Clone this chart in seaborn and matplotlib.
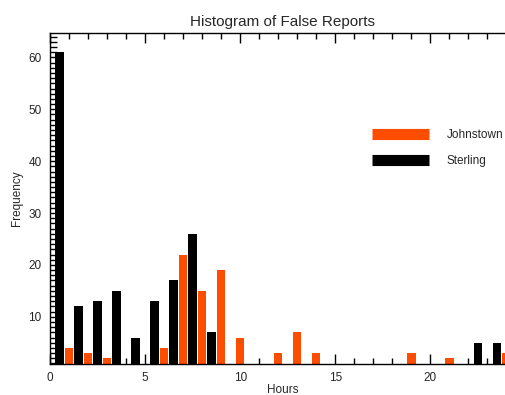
import matplotlib
matplotlib.use("Agg")
import matplotlib.pyplot as plt
from matplotlib.lines import Line2D
from matplotlib.ticker import MultipleLocator
import seaborn as sns
import pandas as pd

# Data
sterling_hours = [0.5, 1.5, 2.5, 3.5, 4.5, 5.5, 6.5, 7.5, 8.5, 22.5, 23.5]
sterling_freq = [61, 12, 13, 15, 6, 13, 17, 26, 7, 5, 5]
johnstown_hours = [1, 2, 3, 6, 7, 8, 9, 10, 12, 13, 14, 19, 21, 24]
johnstown_freq = [4, 3, 2, 4, 22, 15, 19, 6, 3, 7, 3, 3, 2, 3]
series_names = ["Johnstown", "Sterling"]
series_colors = ["#ff4d00", "#000000"]

sns.set_style("ticks")
plt.rcParams["font.family"] = ["Liberation Sans", "DejaVu Sans"]

W, H = 505, 395
fig = plt.figure(figsize=(W / 100, H / 100), dpi=100)
ax = fig.add_axes([50 / W, (H - 364) / H, 465 / W, (364 - 33) / H])

df_s = pd.DataFrame({"Hours": sterling_hours, "Frequency": sterling_freq})
df_j = pd.DataFrame({"Hours": johnstown_hours, "Frequency": johnstown_freq})

sns.barplot(data=df_j, x="Hours", y="Frequency", native_scale=True,
            color=series_colors[0], width=0.44, saturation=1, ax=ax,
            linewidth=0, errorbar=None)
sns.barplot(data=df_s, x="Hours", y="Frequency", native_scale=True,
            color=series_colors[1], width=0.44, saturation=1, ax=ax,
            linewidth=0, errorbar=None)

ax.set_xlim(0, 24.45)
ax.set_ylim(0.9, 64.7)

ax.xaxis.set_major_locator(MultipleLocator(5))
ax.xaxis.set_minor_locator(MultipleLocator(1))
ax.yaxis.set_major_locator(MultipleLocator(10))
ax.yaxis.set_minor_locator(MultipleLocator(1))
ax.set_yticks([10, 20, 30, 40, 50, 60])

ax.tick_params(axis="x", which="major", direction="in", length=7, width=1,
               top=True, labelsize=8.5, pad=6, color="black")
ax.tick_params(axis="x", which="minor", direction="in", length=4, width=1,
               top=True, color="black")
ax.tick_params(axis="y", which="major", direction="in", length=5, width=1,
               labelsize=8.5, pad=6, color="black")
ax.tick_params(axis="y", which="minor", direction="in", length=5, width=1,
               color="black")

for side in ["left", "bottom", "top"]:
    ax.spines[side].set_linewidth(1)
    ax.spines[side].set_color("black")
ax.spines["right"].set_visible(False)

ax.set_title("Histogram of False Reports", fontsize=11, pad=5)
ax.set_xlabel("Hours", fontsize=8.5, labelpad=0)
ax.set_ylabel("Frequency", fontsize=8.5, labelpad=4)

handles = [Line2D([0], [0], color=c, lw=8, solid_capstyle="butt") for c in series_colors]
ax.legend(handles, series_names, loc="upper left",
          bbox_to_anchor=(372 / W, (H - 129) / H), bbox_transform=fig.transFigure,
          frameon=False, fontsize=8.5, handlelength=4.8, handletextpad=1.5,
          labelspacing=1.2, borderpad=0, borderaxespad=0)

fig.savefig("out.png", dpi=100)
